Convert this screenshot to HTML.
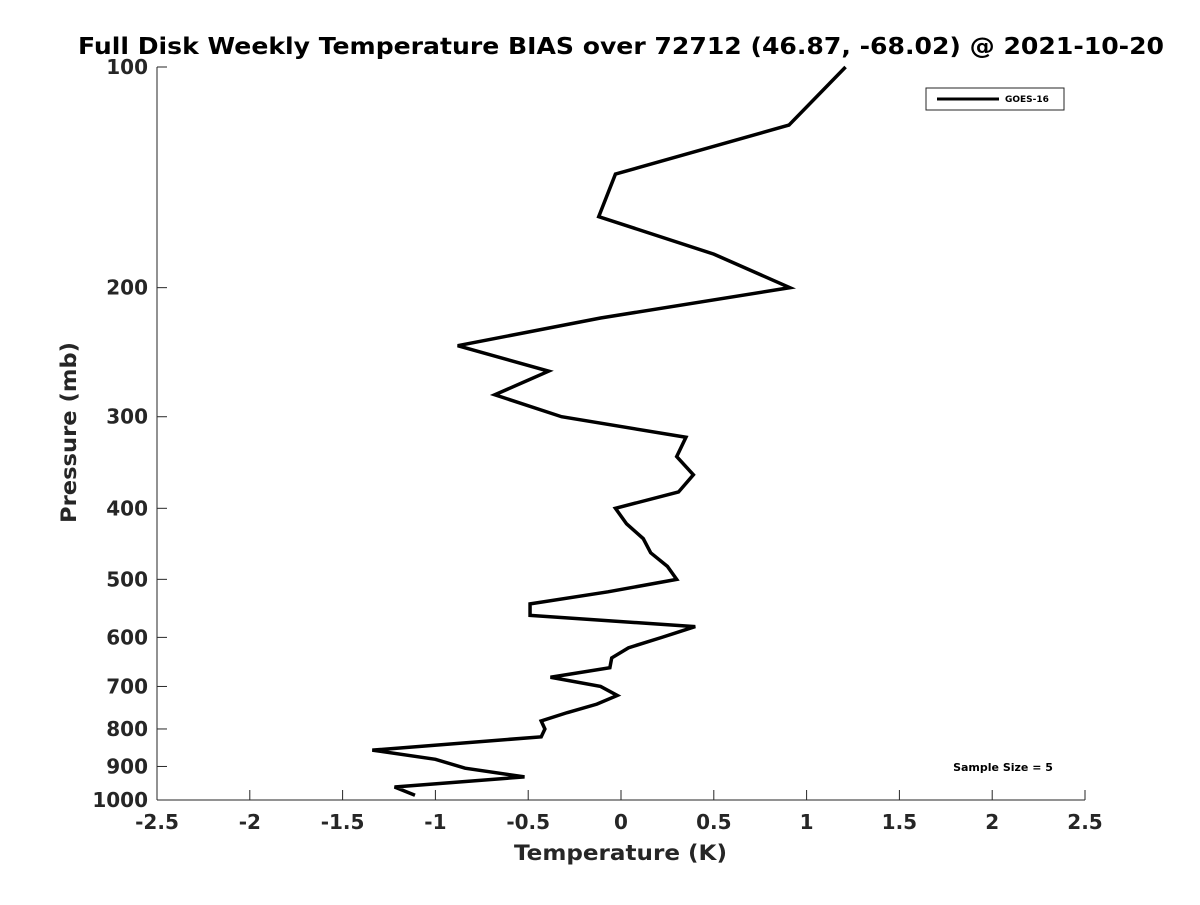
<!DOCTYPE html>
<html><head><meta charset="utf-8"><style>
body{margin:0;background:#fff;}
svg text{font-family:"DejaVu Sans","Liberation Sans",sans-serif;font-weight:bold;fill:#262626;}
</style></head><body>
<svg id="chart" width="1200" height="900" xmlns="http://www.w3.org/2000/svg">
<rect width="1200" height="900" fill="#fff"/>
<text x="78" y="54" font-size="23" textLength="1086" lengthAdjust="spacingAndGlyphs" style="fill:#000">Full Disk Weekly Temperature BIAS over 72712 (46.87, -68.02) @ 2021-10-20</text>
<g id="axes"></g>
<polyline id="line" fill="none" stroke="#000" stroke-width="3.5" stroke-linejoin="miter"/>
<g>
<rect x="926" y="88" width="138" height="22" fill="#fff" stroke="#262626" stroke-width="1"/>
<line x1="937" y1="99" x2="999" y2="99" stroke="#000" stroke-width="3"/>
<text x="1005" y="102" font-size="9" style="fill:#000">GOES-16</text>
</g>
<text x="1003" y="771" font-size="11" text-anchor="middle" style="fill:#000">Sample Size = 5</text>
<text x="514" y="860" font-size="21" textLength="213" lengthAdjust="spacingAndGlyphs">Temperature (K)</text>
<text transform="translate(76,523) rotate(-90)" font-size="21" textLength="181" lengthAdjust="spacingAndGlyphs">Pressure (mb)</text>
</svg>
<script>
const xTicks=[-2.5,-2,-1.5,-1,-0.5,0,0.5,1,1.5,2,2.5];
const yTicks=[100,200,300,400,500,600,700,800,900,1000];
const pressures=[100,120,140,160,180,200,220,240,260,280,300,320,340,360,380,400,420,440,460,480,500,520,540,560,580,600,620,640,660,680,700,720,740,760,780,800,820,855,880,905,930,960,985];
const bias=[1.21,0.905,-0.03,-0.12,0.5,0.91,-0.11,-0.88,-0.39,-0.68,-0.32,0.35,0.30,0.39,0.31,-0.03,0.03,0.12,0.16,0.25,0.30,-0.07,-0.49,-0.49,0.40,0.22,0.04,-0.05,-0.06,-0.38,-0.11,-0.02,-0.13,-0.29,-0.43,-0.41,-0.43,-1.34,-1.0,-0.84,-0.52,-1.22,-1.11];
const X=v=>621+v*185.6;
const Y=p=>67+Math.log10(p/100)*733;
const NS="http://www.w3.org/2000/svg";
const ax=document.getElementById('axes');
function mk(t,a){const e=document.createElementNS(NS,t);for(const k in a)e.setAttribute(k,a[k]);ax.appendChild(e);return e;}
let l=mk('line',{x1:157,y1:67,x2:157,y2:800,stroke:'#262626','stroke-width':1});


l=mk('line',{x1:157,y1:800,x2:1085,y2:800,stroke:'#262626','stroke-width':1});


xTicks.forEach(v=>{
 mk('line',{x1:X(v),y1:800,x2:X(v),y2:790,stroke:'#262626','stroke-width':1});
 const t=mk('text',{x:X(v),y:829,'font-size':20,'text-anchor':'middle'});
 
 
 t.textContent=String(v);
});
yTicks.forEach(p=>{
 mk('line',{x1:157,y1:Y(p),x2:167,y2:Y(p),stroke:'#262626','stroke-width':1});
 const t=mk('text',{x:148,y:Y(p)+7,'font-size':20,'text-anchor':'end'});
 
 
 t.textContent=String(p);
});
document.getElementById('line').setAttribute('points',pressures.map((p,i)=>X(bias[i])+','+Y(p)).join(' '));
</script>
</body></html>
